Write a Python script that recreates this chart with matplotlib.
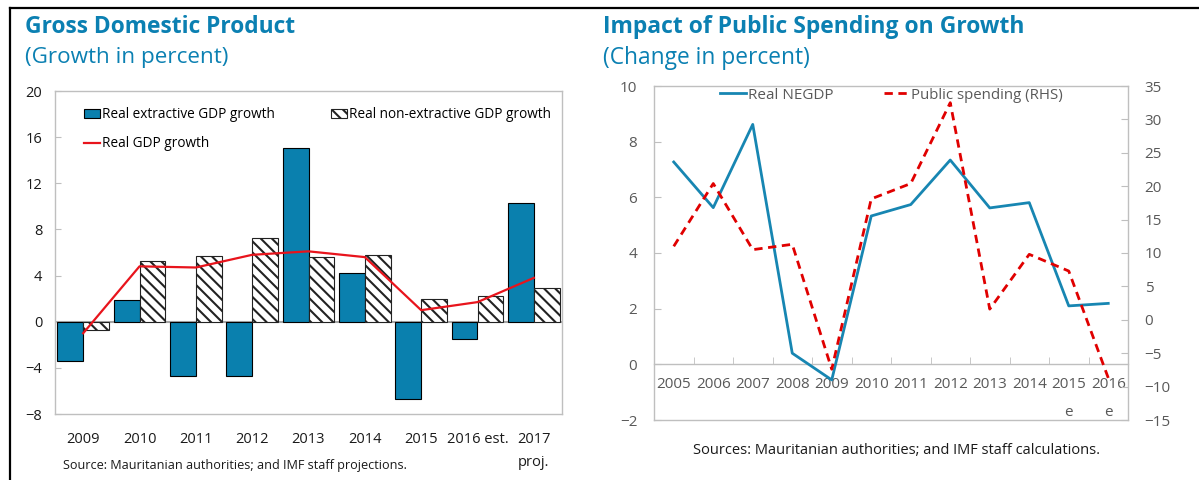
import matplotlib
matplotlib.use("Agg")
import matplotlib.pyplot as plt
from matplotlib.lines import Line2D
import numpy as np

# ---------------- data ----------------
gdp_years = ["2009", "2010", "2011", "2012", "2013", "2014", "2015", "2016 est.", "2017\nproj."]
extractive = [-3.4, 1.9, -4.7, -4.7, 15.1, 4.2, -6.7, -1.5, 10.3]
non_extractive = [-0.7, 5.3, 5.7, 7.3, 5.6, 5.8, 2.0, 2.2, 2.9]
real_gdp = [-1.0, 4.8, 4.7, 5.8, 6.1, 5.6, 1.0, 1.7, 3.8]

sp_years = ["2005", "2006", "2007", "2008", "2009", "2010", "2011", "2012", "2013", "2014", "2015\ne", "2016\ne"]
real_negdp = [7.27, 5.63, 8.62, 0.40, -0.56, 5.33, 5.74, 7.34, 5.62, 5.81, 2.10, 2.19]
public_spending = [11.0, 20.4, 10.5, 11.3, -7.4, 18.1, 20.4, 32.5, 1.6, 9.8, 7.3, -8.7]

# ---------------- style ----------------
plt.rcParams['font.family'] = ['Open Sans', 'DejaVu Sans']
plt.rcParams['hatch.linewidth'] = 1.5

TITLE_C = '#0b80b2'
BLUE = '#0a80ae'
RED = '#e8141c'
SPINE = '#bfbfbf'
GRAYTXT = '#595959'

W, H = 1199, 480
fig = plt.figure(figsize=(W / 100, H / 100), dpi=100)


def fx(px):
    return px / W


def fy(py):
    return 1 - py / H


# frame lines
fig.add_artist(Line2D([fx(10), 1.0], [fy(8), fy(8)], color='black', lw=1.6))
fig.add_artist(Line2D([fx(10), fx(10)], [fy(8), 0.0], color='black', lw=1.6))

# titles
fig.text(fx(25), fy(27), "Gross Domestic Product", fontsize=16.4, fontweight='bold',
         color=TITLE_C, ha='left', va='center')
fig.text(fx(25), fy(58), "(Growth in percent)", fontsize=16.2, color=TITLE_C,
         ha='left', va='center')
fig.text(fx(603), fy(27), "Impact of Public Spending on Growth", fontsize=16.5,
         fontweight='bold', color=TITLE_C, ha='left', va='center')
fig.text(fx(603), fy(58), "(Change in percent)", fontsize=16.4, color=TITLE_C,
         ha='left', va='center')

# ---------------- left chart ----------------
axL = fig.add_axes([fx(55), fy(414), fx(562) - fx(55), fy(91) - fy(414)])
x = np.arange(len(gdp_years))
bw = 0.46
axL.axhline(0, color='#a6a6a6', lw=1.5, zorder=1)
b1 = axL.bar(x - bw / 2, extractive, bw, color=BLUE, edgecolor='black', lw=0.8, zorder=2)
b2 = axL.bar(x + bw / 2, non_extractive, bw, color='white', edgecolor='#222222',
             hatch='\\\\\\', lw=0.8, zorder=2)
l1, = axL.plot(x, real_gdp, color=RED, lw=1.6, zorder=3)
axL.set_xlim(-0.5, len(gdp_years) - 0.5)
axL.set_ylim(-8, 20)
axL.set_yticks(np.arange(-8, 21, 4))
axL.set_xticks(x)
axL.set_xticklabels(gdp_years, fontsize=10.5, color='#1a1a1a', va='top', linespacing=1.72)
axL.tick_params(axis='x', length=0, pad=13)
axL.tick_params(axis='y', direction='in', length=4, color=SPINE, labelsize=10.5,
                labelcolor='#1a1a1a', pad=9)
for s in axL.spines.values():
    s.set_color(SPINE)
    s.set_linewidth(1.0)

wL = 562 - 55
legA = axL.legend([b1, l1], ["Real extractive GDP growth", "Real GDP growth"],
                  loc='upper left', bbox_to_anchor=((84 - 55) / wL, 0.95),
                  frameon=False, fontsize=9.8, handlelength=1.2, handletextpad=0.1,
                  labelspacing=1.05, borderaxespad=0, borderpad=0)
axL.add_artist(legA)
axL.legend([b2], ["Real non-extractive GDP growth"], loc='upper left',
           bbox_to_anchor=((331 - 55) / wL, 0.95), frameon=False, fontsize=9.8,
           handlelength=1.2, handletextpad=0.1, borderaxespad=0, borderpad=0)

fig.text(fx(63), fy(465), "Source: Mauritanian authorities; and IMF staff projections.",
         fontsize=9.1, color='#1a1a1a', ha='left', va='center')

# ---------------- right chart ----------------
axR = fig.add_axes([fx(654), fy(420), fx(1128) - fx(654), fy(86) - fy(420)])
axR2 = axR.twinx()
xs = np.arange(len(sp_years))
lnA, = axR.plot(xs, real_negdp, color='#1786b2', lw=2.0, zorder=3)
lnB, = axR2.plot(xs, public_spending, color='#e00000', lw=2.0, ls=(0, (3, 2)), zorder=3)
axR.set_xlim(-0.5, len(sp_years) - 0.5)
axR.set_ylim(-2, 10)
axR.set_yticks(np.arange(-2, 11, 2))
axR2.set_ylim(-15, 35)
axR2.set_yticks(np.arange(-15, 36, 5))

axR.spines['bottom'].set_position(('data', 0))
axR.set_xticks(xs)
axR.set_xticklabels(sp_years, fontsize=11, color=GRAYTXT, va='top', linespacing=2.2)
axR.set_xticks(xs[:-1] + 0.5, minor=True)
axR.tick_params(axis='x', which='major', length=0, pad=9)
axR.tick_params(axis='x', which='minor', direction='in', length=5, color=SPINE)
axR.tick_params(axis='y', direction='in', length=5, color=SPINE, labelsize=11,
                labelcolor=GRAYTXT, pad=12)
axR2.tick_params(axis='y', direction='in', length=5, color=SPINE, labelsize=11,
                 labelcolor=GRAYTXT, pad=12)
for a in (axR, axR2):
    for s in a.spines.values():
        s.set_color(SPINE)
        s.set_linewidth(1.0)
axR.spines['top'].set_visible(False)
axR2.spines['left'].set_visible(False)
axR.spines['right'].set_visible(False)

wR = 1128 - 654
legR = axR2.legend([lnA], ["Real NEGDP"], loc='upper left',
                   bbox_to_anchor=((720 - 654) / wR, 0.995), frameon=False, fontsize=11,
                   handlelength=1.7, handletextpad=0.1, labelcolor=GRAYTXT,
                   borderaxespad=0, borderpad=0)
axR2.add_artist(legR)
axR2.legend([lnB], ["Public spending (RHS)"], loc='upper left',
            bbox_to_anchor=((884 - 654) / wR, 0.995), frameon=False, fontsize=10.8,
            handlelength=1.7, handletextpad=0.1, labelcolor=GRAYTXT,
            borderaxespad=0, borderpad=0)

fig.text(fx(897), fy(450), "Sources: Mauritanian authorities; and IMF staff calculations.",
         fontsize=10.5, color='#1a1a1a', ha='center', va='center')

fig.savefig("out.png", dpi=100)
